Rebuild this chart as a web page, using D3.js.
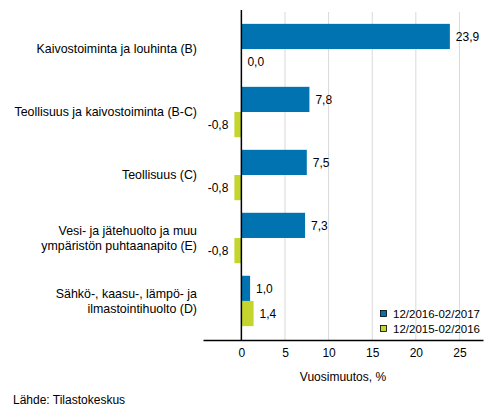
<!DOCTYPE html>
<html>
<head>
<meta charset="utf-8">
<script src="https://cdn.jsdelivr.net/npm/d3@7"></script>
<style>
  body { margin: 0; background: #fff; }
  text { font-family: "Liberation Sans", Arial, sans-serif; fill: #000; }
</style>
</head>
<body>
<svg id="drawing_region"></svg>
<script>
// data
const categories = [
    ["Kaivostoiminta ja louhinta (B)"],
    ["Teollisuus ja kaivostoiminta (B-C)"],
    ["Teollisuus (C)"],
    ["Vesi- ja jätehuolto ja muu", "ympäristön puhtaanapito (E)"],
    ["Sähkö-, kaasu-, lämpö- ja", "ilmastointihuolto (D)"]
];
const series_names = ["12/2016-02/2017", "12/2015-02/2016"];
const values_2017 = [23.9, 7.8, 7.5, 7.3, 1.0];
const values_2016 = [0.0, -0.8, -0.8, -0.8, 1.4];
const x_ticks = [0, 5, 10, 15, 20, 25];
const colors = ["#0073b0", "#c4d62e"];

const config = {
    width: 493,
    height: 416,
    margin: {top: 10, right: 10, bottom: 76, left: 203}
};

const svg = d3.select("#drawing_region")
    .attr("width", config.width)
    .attr("height", config.height);

const inner_width = config.width - config.margin.left - config.margin.right;
const inner_height = config.height - config.margin.top - config.margin.bottom;

const chart = svg.append("g")
    .attr("transform", `translate(${config.margin.left}, ${config.margin.top})`);

const xscale = d3.scaleLinear()
    .domain([-4.4, 27.7])
    .range([0, inner_width]);

const yscale = d3.scaleBand()
    .domain(d3.range(categories.length))
    .range([0, inner_height])
    .paddingInner(0.2)
    .paddingOuter(0.22);

const sub = d3.scaleBand()
    .domain([0, 1])
    .range([0, yscale.bandwidth()]);

const fmt = d => d.toFixed(1).replace(".", ",");

// grid lines
chart.append("g").selectAll("line")
    .data(x_ticks.filter(d => d !== 0))
    .join("line")
    .attr("x1", d => xscale(d))
    .attr("x2", d => xscale(d))
    .attr("y1", 2)
    .attr("y2", inner_height)
    .attr("stroke", "#d9d9d9")
    .attr("stroke-width", 1);

const series = [values_2017, values_2016];

series.forEach((vals, s) => {
    const g = chart.append("g");
    g.selectAll("rect")
        .data(vals)
        .join("rect")
        .attr("x", d => xscale(Math.min(0, d)))
        .attr("y", (d, i) => yscale(i) + sub(s))
        .attr("width", d => Math.abs(xscale(d) - xscale(0)))
        .attr("height", sub.bandwidth())
        .attr("fill", colors[s]);

    g.selectAll("text")
        .data(vals)
        .join("text")
        .attr("x", d => d < 0 ? xscale(d) - 6 : xscale(d) + 6)
        .attr("y", (d, i) => yscale(i) + sub(s) + sub.bandwidth() / 2)
        .attr("dy", "0.35em")
        .attr("text-anchor", d => d < 0 ? "end" : "start")
        .style("font-size", "12px")
        .text(fmt);
});

// x axis
const xaxis = d3.axisBottom(xscale)
    .tickValues(x_ticks)
    .tickSize(0)
    .tickPadding(8)
    .tickFormat(d => d);

const xaxis_group = chart.append("g")
    .attr("transform", `translate(0, ${inner_height})`)
    .call(xaxis);
xaxis_group.select(".domain").attr("stroke", "#000").attr("stroke-width", 1.5);
xaxis_group.selectAll("text").style("font-size", "12px").style("font-family", "Liberation Sans, Arial, sans-serif");

// zero line
chart.append("line")
    .attr("x1", xscale(0))
    .attr("x2", xscale(0))
    .attr("y1", 0)
    .attr("y2", inner_height)
    .attr("stroke", "#000")
    .attr("stroke-width", 1.5);

// category labels
const labels = svg.append("g").selectAll("text")
    .data(categories)
    .join("text")
    .attr("x", 197)
    .attr("y", (d, i) => config.margin.top + yscale(i) + yscale.bandwidth() / 2)
    .attr("text-anchor", "end")
    .style("font-size", "12.4px");

labels.selectAll("tspan")
    .data(d => d.map((t, k) => ({t, k, n: d.length})))
    .join("tspan")
    .attr("x", 197)
    .attr("dy", d => d.k === 0 ? `${0.35 - (d.n - 1) * 0.6}em` : "1.2em")
    .text(d => d.t);

// axis title
svg.append("text")
    .attr("x", config.margin.left + inner_width / 2)
    .attr("y", 381)
    .attr("text-anchor", "middle")
    .style("font-size", "12px")
    .text("Vuosimuutos, %");

// legend
const legend = svg.append("g")
    .attr("transform", "translate(380, 310)");
series_names.forEach((name, i) => {
    legend.append("rect")
        .attr("x", 0.5)
        .attr("y", i * 15 + 0.5)
        .attr("width", 6)
        .attr("height", 6)
        .attr("fill", colors[i])
        .attr("stroke", "#000")
        .attr("stroke-width", 0.8);
    legend.append("text")
        .attr("x", 13)
        .attr("y", i * 15 + 4)
        .attr("dy", "0.35em")
        .style("font-size", "11.5px")
        .text(name);
});

// source
svg.append("text")
    .attr("x", 13)
    .attr("y", 404)
    .style("font-size", "12px")
    .text("Lähde: Tilastokeskus");
</script>
</body>
</html>
